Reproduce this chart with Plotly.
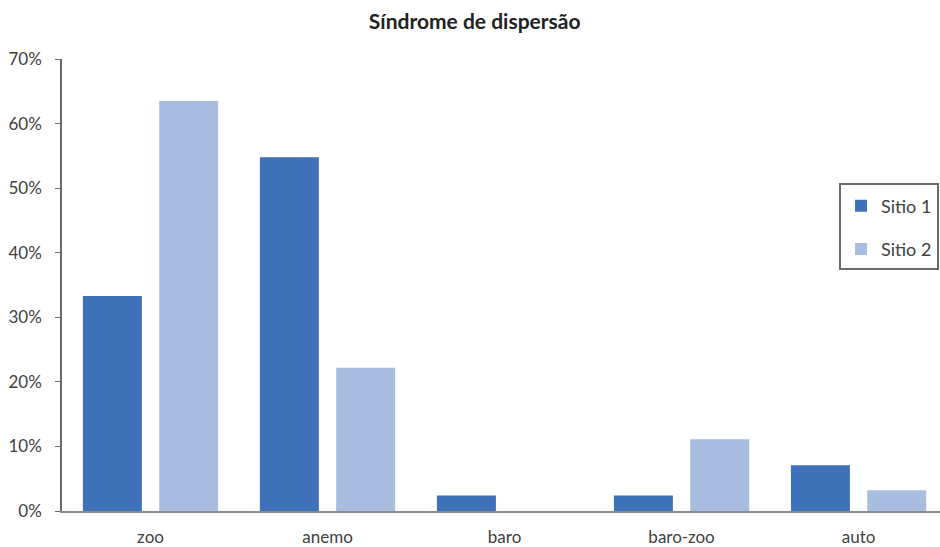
import plotly.graph_objects as go

# Dispersal syndrome shares (%) per site
categorias = ["zoo", "anemo", "baro", "baro-zoo", "auto"]
sitio1 = [33.3, 54.8, 2.4, 2.4, 7.1]
sitio2 = [63.5, 22.2, 0.0, 11.1, 3.2]
yticks = [0, 10, 20, 30, 40, 50, 60, 70]
ytick_text = [f"{v}%" for v in yticks]

FONT = "Lato, 'Open Sans', sans-serif"
TXT = "#404040"

fig = go.Figure()
fig.add_trace(go.Bar(name="Sitio 1", x=categorias, y=sitio1,
                     marker=dict(color="#3F71B8", line=dict(width=0)),
                     legendgroup="s1"))
fig.add_trace(go.Bar(name="Sitio 2", x=categorias, y=sitio2,
                     marker=dict(color="#A7BEE0", line=dict(width=0)),
                     legendgroup="s2"))

fig.update_layout(
    width=940, height=547,
    margin=dict(l=62, r=0, t=59, b=33, pad=0),
    paper_bgcolor="white", plot_bgcolor="white",
    barmode="group", bargap=0.138, bargroupgap=0.227,
    title=dict(text="<b>Síndrome de dispersão</b>", x=0.505, xanchor="center",
               y=0.961, yanchor="middle",
               font=dict(family=FONT, size=21, color="#222222")),
    font=dict(family=FONT, size=17, color=TXT),
    showlegend=True,
    legend=dict(x=0.885, xanchor="left", y=0.726, yanchor="top",
                bordercolor="#6a6a6a", borderwidth=2, bgcolor="white",
                font=dict(family=FONT, size=18, color=TXT),
                tracegroupgap=17, itemwidth=30,
                title=dict(text=" ", font=dict(size=2))),
    xaxis=dict(range=[-0.5, 4.46], showgrid=False, zeroline=False,
               showline=True, linecolor="#8c8c8c", linewidth=1.5,
               ticks="", ticklabelstandoff=10,
               tickfont=dict(family=FONT, size=17, color=TXT)),
    yaxis=dict(range=[0, 70], tickvals=yticks, ticktext=ytick_text,
               showgrid=False, zeroline=False,
               showline=True, linecolor="#6a6a6a", linewidth=1.5,
               ticks="outside", ticklen=5, tickcolor="#6a6a6a",
               ticklabelstandoff=10,
               tickfont=dict(family=FONT, size=17, color=TXT)),
)

fig.write_html("out.html")
